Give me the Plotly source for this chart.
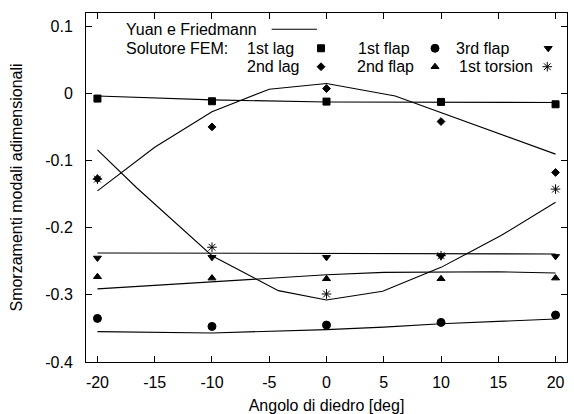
import plotly.graph_objects as go

# ---- FEM solver results (markers) ----
angles = [-20, -10, 0, 10, 20]
fem_1st_lag = [-0.0075, -0.0115, -0.012, -0.0125, -0.016]
fem_2nd_lag = [-0.127, -0.0497, 0.0074, -0.0417, -0.1176]
fem_1st_flap = [-0.335, -0.347, -0.345, -0.341, -0.330]
fem_2nd_flap = [-0.273, -0.275, -0.276, -0.276, -0.275]
fem_3rd_flap = [-0.245, -0.244, -0.244, -0.2426, -0.2426]
fem_1st_torsion = [-0.1275, -0.229, -0.2987, -0.2416, -0.1424]

# ---- Yuan e Friedmann reference curves (lines) ----
yf_1st_lag_x = [-20, -10, 0, 10, 20]
yf_1st_lag_y = [-0.0036, -0.0095, -0.0125, -0.0125, -0.0134]
yf_2nd_lag_x = [-20, -15, -10, -5, 0, 6, 20]
yf_2nd_lag_y = [-0.145, -0.080, -0.027, 0.0064, 0.0149, -0.0036, -0.0903]
yf_1st_flap_x = [-20, -10, 0, 5, 10, 20]
yf_1st_flap_y = [-0.3547, -0.3567, -0.3517, -0.348, -0.343, -0.336]
yf_2nd_flap_x = [-20, -10, 0, 5, 15, 20]
yf_2nd_flap_y = [-0.291, -0.280, -0.270, -0.2665, -0.2655, -0.2674]
yf_3rd_flap_x = [-20, -10, 0, 10, 20]
yf_3rd_flap_y = [-0.2375, -0.238, -0.238, -0.239, -0.239]
yf_1st_torsion_x = [-20, -16.6, -10, -4.2, 0, 4.9, 10, 15.2, 20]
yf_1st_torsion_y = [-0.084, -0.140, -0.2416, -0.2937, -0.3076, -0.2946, -0.259, -0.212, -0.162]

x_ticks = [-20, -15, -10, -5, 0, 5, 10, 15, 20]
x_tick_text = ["-20", "-15", "-10", "-5", "0", "5", "10", "15", "20"]
y_ticks = [-0.4, -0.3, -0.2, -0.1, 0, 0.1]
y_tick_text = ["-0.4", "-0.3", "-0.2", "-0.1", "0", "0.1"]

FONT = "Liberation Sans, Arial, Helvetica, sans-serif"
FS = 16

fig = go.Figure()

line_style = dict(color="black", width=1.1)
for xs, ys in [
    (yf_1st_lag_x, yf_1st_lag_y),
    (yf_2nd_lag_x, yf_2nd_lag_y),
    (yf_1st_flap_x, yf_1st_flap_y),
    (yf_2nd_flap_x, yf_2nd_flap_y),
    (yf_3rd_flap_x, yf_3rd_flap_y),
    (yf_1st_torsion_x, yf_1st_torsion_y),
]:
    fig.add_trace(go.Scatter(x=xs, y=ys, mode="lines", line=line_style,
                             showlegend=False, hoverinfo="skip"))

series = [
    ("1st lag", fem_1st_lag, "square", 7),
    ("1st flap", fem_1st_flap, "circle", 8),
    ("3rd flap", fem_3rd_flap, "triangle-down", 7),
    ("2nd lag", fem_2nd_lag, "diamond", 6),
    ("2nd flap", fem_2nd_flap, "triangle-up", 7),
    ("1st torsion", fem_1st_torsion, "asterisk-open", 8),
]
for name, vals, sym, sz in series:
    fig.add_trace(go.Scatter(
        x=angles, y=vals, mode="markers", name=name,
        marker=dict(symbol=sym, size=sz, color="black",
                    line=dict(color="black", width=1)),
        showlegend=False))

# ---- key (top-left), positioned in plot-area fractions on an overlay axis ----
key_rows_y = [0.9533, 0.8989, 0.8461]
key_markers = [
    (0.4886, key_rows_y[1], "square", 7),
    (0.7256, key_rows_y[1], "circle", 8),
    (0.961, key_rows_y[1], "triangle-down", 7),
    (0.4886, key_rows_y[2], "diamond", 6),
    (0.7256, key_rows_y[2], "triangle-up", 7),
    (0.959, key_rows_y[2], "asterisk-open", 8),
]
for kx, ky, sym, sz in key_markers:
    fig.add_trace(go.Scatter(
        x=[kx], y=[ky], xaxis="x2", yaxis="y2", mode="markers",
        marker=dict(symbol=sym, size=sz, color="black",
                    line=dict(color="black", width=1)),
        showlegend=False, hoverinfo="skip"))
fig.add_trace(go.Scatter(
    x=[0.386, 0.4802], y=[key_rows_y[0]] * 2, xaxis="x2", yaxis="y2",
    mode="lines", line=line_style, showlegend=False, hoverinfo="skip"))

key_texts = [
    ("Yuan e Friedmann", 0.0796, key_rows_y[0]),
    ("Solutore FEM:", 0.0796, key_rows_y[1]),
    ("1st lag", 0.3306, key_rows_y[1]),
    ("1st flap", 0.5613, key_rows_y[1]),
    ("3rd flap", 0.765, key_rows_y[1]),
    ("2nd lag", 0.3306, key_rows_y[2]),
    ("2nd flap", 0.559, key_rows_y[2]),
    ("1st torsion", 0.7707, key_rows_y[2]),
]
for txt, tx, ty in key_texts:
    fig.add_annotation(text=txt, x=tx, y=ty, xref="x2", yref="y2",
                       xanchor="left", yanchor="middle", showarrow=False,
                       font=dict(family=FONT, size=FS, color="black"))

axis_common = dict(
    showline=True, linecolor="black", linewidth=1, mirror="ticks",
    ticks="inside", ticklen=6, tickcolor="black", tickwidth=1,
    showgrid=False, zeroline=False, automargin=False,
    tickfont=dict(family=FONT, size=FS, color="black"),
)

fig.update_layout(
    width=574, height=414,
    margin=dict(l=86, r=7, t=13, b=52),
    paper_bgcolor="white", plot_bgcolor="white",
    font=dict(family=FONT, size=FS, color="black"),
    xaxis=dict(range=[-21, 21], tickvals=x_ticks, ticktext=x_tick_text,
               ticklabelstandoff=6,
               title=dict(text="Angolo di diedro [deg]", standoff=9,
                          font=dict(family=FONT, size=FS)),
               **axis_common),
    yaxis=dict(range=[-0.4, 0.12], tickvals=y_ticks, ticktext=y_tick_text,
               ticklabelstandoff=9,
               title=dict(text="Smorzamenti modali adimensionali", standoff=18,
                          font=dict(family=FONT, size=FS)),
               **axis_common),
    xaxis2=dict(range=[0, 1], overlaying="x", anchor="y2", visible=False),
    yaxis2=dict(range=[0, 1], overlaying="y", anchor="x2", visible=False),
)

fig.write_html("out.html")
